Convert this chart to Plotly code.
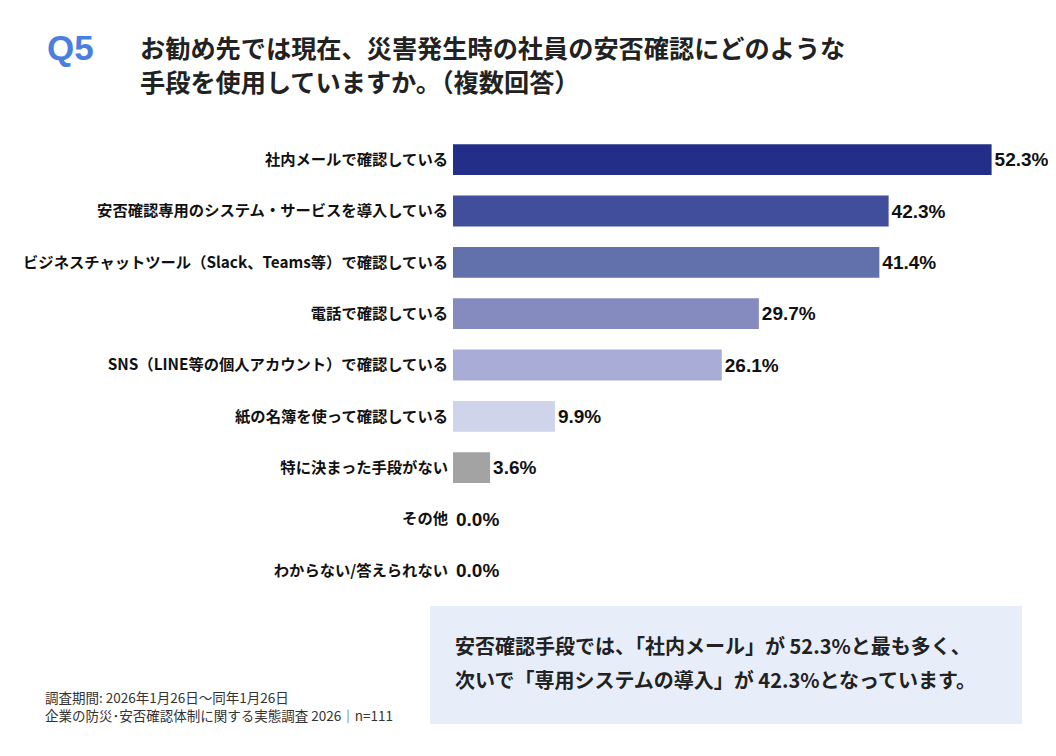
import plotly.graph_objects as go

categories = [
    "社内メールで確認している",
    "安否確認専用のシステム・サービスを導入している",
    "ビジネスチャットツール（Slack、Teams等）で確認している",
    "電話で確認している",
    "SNS（LINE等の個人アカウント）で確認している",
    "紙の名簿を使って確認している",
    "特に決まった手段がない",
    "その他",
    "わからない/答えられない",
]
values = [52.3, 42.3, 41.4, 29.7, 26.1, 9.9, 3.6, 0.0, 0.0]
bar_colors = ["#232E88", "#414E9B", "#6270AC", "#858BBF", "#A8ACD6",
              "#D0D4EA", "#A3A3A3", "#A3A3A3", "#A3A3A3"]

FONT = "Noto Sans CJK JP"
W, H = 1040, 740
ML, MR, MT, MB = 445, 8, 126, 152
PW, PH = W - ML - MR, H - MT - MB
OFF = 8  # page body margin

fig = go.Figure(go.Bar(
    x=values,
    y=categories,
    orientation="h",
    marker=dict(color=bar_colors, line=dict(width=0)),
    width=0.6,
    texttemplate="<b>%{x:.1f}%</b>",
    textposition="outside",
    constraintext="none",
    textfont=dict(family="Liberation Sans, Arial", size=19, color="#111111"),
    cliponaxis=False,
    hoverinfo="skip",
))

def px_x(x):
    return (x - OFF - ML) / PW

def px_y(y):
    return (H - MB - (y - OFF)) / PH

fig.update_layout(
    width=W, height=H,
    paper_bgcolor="white", plot_bgcolor="white",
    margin=dict(l=ML, r=MR, t=MT, b=MB),
    showlegend=False,
    font=dict(family=FONT),
    xaxis=dict(range=[0, 57], visible=False, fixedrange=True),
    yaxis=dict(
        autorange="reversed",
        tickfont=dict(family=FONT, size=15.3, color="#111111", weight="bold"),
        ticks="", showline=False, showgrid=False, zeroline=False,
        ticklabelstandoff=4,
    ),
    shapes=[
        dict(type="rect", xref="paper", yref="paper",
             x0=px_x(430), x1=px_x(1022),
             y0=px_y(724), y1=px_y(606),
             fillcolor="#E8EEF9", line=dict(width=0), layer="below"),
    ],
)

annotations = [
    dict(text="<b>Q5</b>", x=px_x(45), y=px_y(48), xanchor="left", yanchor="middle",
         font=dict(family="Liberation Sans, Arial", size=35, color="#4A7FDF")),
    dict(text="<b>お勧め先では現在、災害発生時の社員の安否確認にどのような</b>",
         x=px_x(138), y=px_y(47), xanchor="left", yanchor="middle", align="left",
         font=dict(family=FONT, size=25.2, color="#222222")),
    dict(text="<b>手段を使用していますか。（複数回答）</b>",
         x=px_x(138), y=px_y(81), xanchor="left", yanchor="middle", align="left",
         font=dict(family=FONT, size=25.2, color="#222222")),
    dict(text="<b>安否確認手段では、「社内メール」が 52.3%と最も多く、</b>",
         x=px_x(453), y=px_y(645), xanchor="left", yanchor="middle", align="left",
         font=dict(family=FONT, size=20, color="#222222")),
    dict(text="<b>次いで「専用システムの導入」が 42.3%となっています。</b>",
         x=px_x(453), y=px_y(679), xanchor="left", yanchor="middle", align="left",
         font=dict(family=FONT, size=20, color="#222222")),
    dict(text="調査期間: 2026年1月26日～同年1月26日",
         x=px_x(43), y=px_y(697), xanchor="left", yanchor="middle", align="left",
         font=dict(family=FONT, size=13.5, color="#333333")),
    dict(text="企業の防災･安否確認体制に関する実態調査 2026│n=111",
         x=px_x(43), y=px_y(715), xanchor="left", yanchor="middle", align="left",
         font=dict(family=FONT, size=13.5, color="#333333")),
]
for a in annotations:
    a.update(xref="paper", yref="paper", showarrow=False)
fig.update_layout(annotations=annotations)

fig.write_html("out.html")
